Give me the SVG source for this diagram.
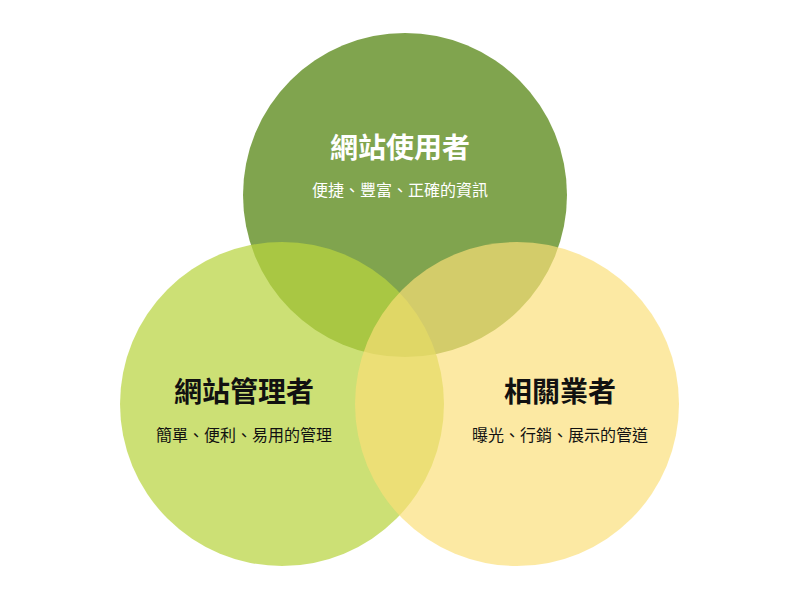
<svg xmlns="http://www.w3.org/2000/svg" width="800" height="600" viewBox="0 0 800 600">
<style>
.t{font-family:"Noto Sans CJK TC","Noto Sans CJK SC",sans-serif;text-anchor:middle}
.h{font-size:28px;font-weight:bold}
.s{font-size:16px}
</style>
<rect width="800" height="600" fill="#fff"/>
<g id="top"><circle cx="405" cy="195" r="162" fill="#80a44e"/></g>
<g id="left"><circle cx="282" cy="404" r="162" fill="#b8d440" fill-opacity="0.72"/></g>
<g id="right"><circle cx="517" cy="404" r="162" fill="#fbdf78" fill-opacity="0.68"/></g>
<g id="labels">
<text class="t h" x="400" y="158" fill="#fff">網站使用者</text>
<text class="t s" x="400" y="196" fill="#fff">便捷、豐富、正確的資訊</text>
<text class="t h" x="244" y="402" fill="#111">網站管理者</text>
<text class="t s" x="244" y="441" fill="#111">簡單、便利、易用的管理</text>
<text class="t h" x="560" y="402" fill="#111">相關業者</text>
<text class="t s" x="560" y="441" fill="#111">曝光、行銷、展示的管道</text>
</g>
</svg>
